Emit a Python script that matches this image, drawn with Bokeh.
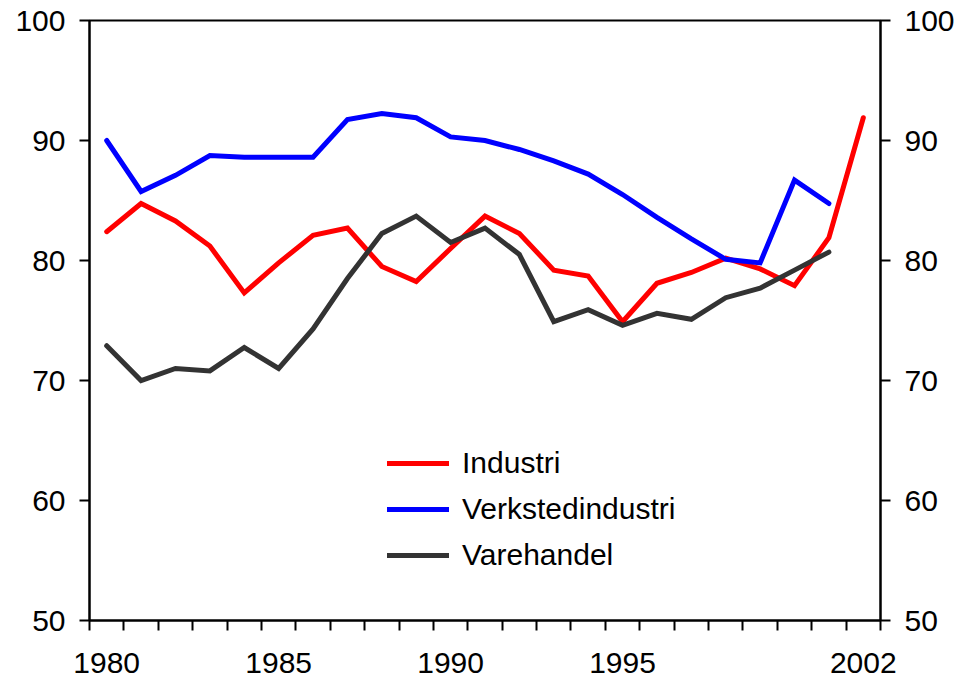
from bokeh.plotting import figure
from bokeh.models import Range1d, FixedTicker, LinearAxis, Legend, LegendItem
from bokeh.embed import file_html
from bokeh.resources import INLINE

years = list(range(1980, 2003))
industri = [82.4, 84.75, 83.3, 81.2, 77.3, 79.8, 82.1, 82.7, 79.5, 78.25, 81.0, 83.7,
            82.25, 79.2, 78.7, 74.9, 78.1, 79.0, 80.2, 79.3, 77.9, 81.9, 91.9]
verksted = [90.0, 85.75, 87.1, 88.75, 88.6, 88.6, 88.6, 91.75, 92.25, 91.9, 90.3, 90.0,
            89.25, 88.3, 87.2, 85.5, 83.6, 81.8, 80.1, 79.8, 86.7, 84.75]
varehandel = [72.9, 70.0, 71.0, 70.8, 72.75, 71.0, 74.3, 78.5, 82.25, 83.7, 81.5, 82.7,
              80.5, 74.9, 75.9, 74.6, 75.6, 75.1, 76.9, 77.7, 79.2, 80.7]
series_names = ["Industri", "Verkstedindustri", "Varehandel"]
series_colors = ["#ff0000", "#0000ff", "#333333"]
x_labels = [1980, 1985, 1990, 1995, 2002]
y_ticks = [50, 60, 70, 80, 90, 100]

FONT = "Liberation Sans"
FS = "30px"

p = figure(width=959, height=682, output_backend="svg", toolbar_location=None,
           x_range=Range1d(1979.5, 2002.5), y_range=Range1d(50, 100),
           min_border_left=89, min_border_right=79, min_border_top=20, min_border_bottom=62,
           x_axis_location=None, y_axis_location=None)
p.xgrid.visible = False
p.ygrid.visible = False
p.outline_line_color = "black"
p.outline_line_width = 2
p.background_fill_color = "white"
p.border_fill_color = "white"

boundaries = [y - 0.5 for y in years] + [years[-1] + 0.5]
xaxis = LinearAxis(ticker=FixedTicker(ticks=x_labels, minor_ticks=boundaries))
xaxis.major_tick_out = 0
xaxis.major_tick_in = 0
xaxis.minor_tick_out = 10
xaxis.minor_tick_in = 0
xaxis.minor_tick_line_color = "black"
xaxis.minor_tick_line_width = 2
xaxis.axis_line_width = 2
xaxis.axis_line_color = "black"
xaxis.major_label_text_font = FONT
xaxis.major_label_text_font_size = FS
xaxis.major_label_text_color = "black"
xaxis.major_label_standoff = 22
p.add_layout(xaxis, "below")

for side in ["left", "right"]:
    ya = LinearAxis(ticker=FixedTicker(ticks=y_ticks, minor_ticks=[]))
    ya.major_tick_out = 10
    ya.major_tick_in = 0
    ya.major_tick_line_width = 2
    ya.major_tick_line_color = "black"
    ya.minor_tick_out = 0
    ya.minor_tick_in = 0
    ya.axis_line_width = 2
    ya.axis_line_color = "black"
    ya.major_label_text_font = FONT
    ya.major_label_text_font_size = FS
    ya.major_label_text_color = "black"
    ya.major_label_standoff = 14
    p.add_layout(ya, side)

renderers = []
for vals, col in zip([industri, verksted, varehandel], series_colors):
    r = p.line(years[:len(vals)], vals, line_color=col, line_width=5,
               line_cap="round", line_join="miter")
    renderers.append(r)

legend = Legend(items=[LegendItem(label=n, renderers=[r]) for n, r in zip(series_names, renderers)],
                location=(298, 45), padding=0, margin=0, spacing=6,
                glyph_width=62, glyph_height=40, label_height=40, label_standoff=13,
                label_text_font=FONT, label_text_font_size=FS, label_text_color="black",
                background_fill_alpha=0, border_line_alpha=0)
p.add_layout(legend, "center")

open("out.html", "w").write(file_html(p, INLINE))
